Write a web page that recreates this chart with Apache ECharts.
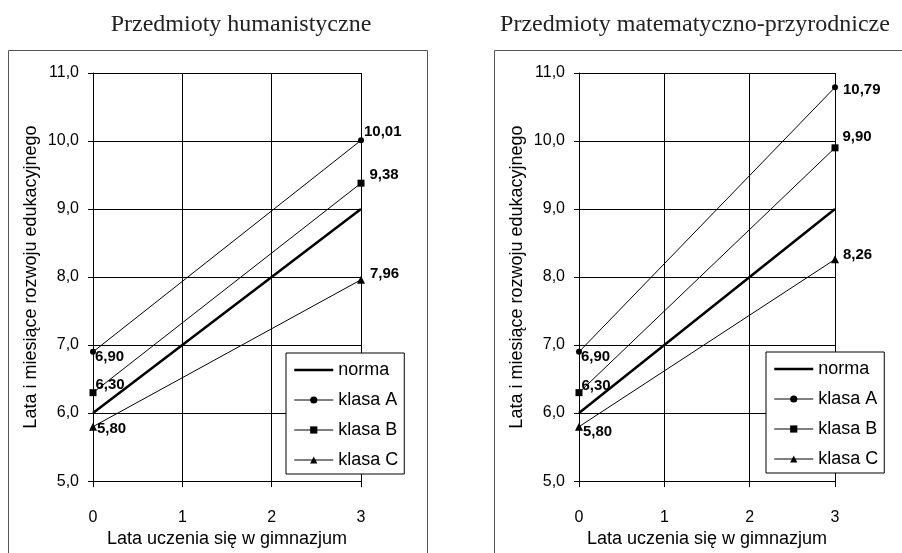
<!DOCTYPE html>
<html lang="pl">
<head>
  <meta charset="UTF-8">
  <title>Rozwój edukacyjny</title>
  <script src="https://cdn.jsdelivr.net/npm/echarts@6/dist/echarts.min.js"></script>
  <style>
    body { margin: 0; background: #fff; }
    #chart { width: 902px; height: 553px; }
  </style>
</head>
<body>
<div id="chart"></div>
<script>
  // dane
  const panelTitles = ['Przedmioty humanistyczne', 'Przedmioty matematyczno-przyrodnicze'];
  const seriesNames = ['norma', 'klasa A', 'klasa B', 'klasa C'];
  const classYears = [0, 3];
  const normaYears = [0, 1, 2, 3];
  const normaValues = [6, 7, 8, 9];
  const humA = [6.90, 10.01];
  const humB = [6.30, 9.38];
  const humC = [5.80, 7.96];
  const matA = [6.90, 10.79];
  const matB = [6.30, 9.90];
  const matC = [5.80, 8.26];

  // przesuniecia etykiet (tylko uklad)
  const labelShift = [
    [[-1, 5], [0, -8]],  [[-1, -8], [5, -8]],  [[0, 2], [5, -6]],
    [[-1, 5], [5, 3]],   [[-1, -7], [4, -11]], [[0, 5], [4, -5]]
  ];

  const FONT = 'Liberation Sans';
  const comma = (v, d) => v.toFixed(d).replace('.', ',');

  const chart = echarts.init(document.getElementById('chart'), null, { renderer: 'canvas' });

  const grids = [
    { left: 93, top: 73, width: 268, height: 414 },
    { left: 579, top: 73, width: 256, height: 414 }
  ];

  function axesFor(i) {
    const x = {
      type: 'value', gridIndex: i, min: 0, max: 3, interval: 1,
      name: 'Lata uczenia się w gimnazjum', nameLocation: 'middle', nameGap: 42,
      nameTextStyle: { fontFamily: FONT, fontSize: 18, color: '#000' },
      axisLine: { lineStyle: { color: '#000', width: 1 } },
      axisTick: { show: true, length: 6, lineStyle: { color: '#000' } },
      axisLabel: { margin: 28, fontFamily: FONT, fontSize: 16, color: '#000' },
      splitLine: { show: true, lineStyle: { color: '#000', width: 1 } }
    };
    const y = {
      type: 'value', gridIndex: i, min: 5, max: 11, interval: 1,
      name: 'Lata i miesiące rozwoju edukacyjnego', nameLocation: 'middle', nameGap: 53,
      nameTextStyle: { fontFamily: FONT, fontSize: 18, color: '#000' },
      axisLine: { show: true, lineStyle: { color: '#000', width: 1 } },
      axisTick: { show: true, length: 5, lineStyle: { color: '#000' } },
      axisLabel: { margin: 14, fontFamily: FONT, fontSize: 16, color: '#000',
        formatter: v => comma(v, 1) },
      splitLine: { show: true, lineStyle: { color: '#000', width: 1 } }
    };
    return [x, y];
  }

  const markers = { 'klasa A': ['circle', 6], 'klasa B': ['rect', 7], 'klasa C': ['triangle', 8] };

  function classSeries(name, values, panel, shifts) {
    return {
      name: name, type: 'line', xAxisIndex: panel, yAxisIndex: panel,
      symbol: markers[name][0], symbolSize: markers[name][1],
      lineStyle: { color: '#000', width: 1 },
      itemStyle: { color: '#000' },
      z: 3,
      data: values.map((v, k) => ({
        value: [classYears[k], v],
        label: {
          show: true, position: 'right', distance: 0, offset: shifts[k],
          fontFamily: FONT, fontSize: 15, fontWeight: 'bold', color: '#000',
          formatter: p => comma(p.value[1], 2)
        }
      }))
    };
  }

  function normaSeries(panel) {
    return {
      name: 'norma', type: 'line', xAxisIndex: panel, yAxisIndex: panel,
      symbol: 'none', z: 4,
      lineStyle: { color: '#000', width: 2.5 },
      itemStyle: { color: '#000' },
      data: normaYears.map((x, k) => [x, normaValues[k]])
    };
  }

  const panelData = [[humA, humB, humC], [matA, matB, matC]];
  const series = [];
  panelData.forEach((set, p) => {
    series.push(normaSeries(p));
    set.forEach((vals, k) => {
      series.push(classSeries(seriesNames[k + 1], vals, p, labelShift[p * 3 + k]));
    });
  });

  const xAxes = [], yAxes = [];
  [0, 1].forEach(i => { const a = axesFor(i); xAxes.push(a[0]); yAxes.push(a[1]); });

  function legendAt(left, top) {
    return {
      data: seriesNames.map(n => n === 'norma'
        ? { name: n, itemStyle: { opacity: 0 }, lineStyle: { width: 2.5 } }
        : { name: n, lineStyle: { width: 1 } }),
      orient: 'vertical', left: left, top: top,
      backgroundColor: '#fff', borderColor: '#000', borderWidth: 1,
      padding: [8, 6, 5, 7], itemGap: 12, itemWidth: 39, itemHeight: 9,
      selectedMode: false,
      textStyle: { fontFamily: FONT, fontSize: 18, color: '#000' },
      z: 10
    };
  }

  const option = {
    animation: false,
    backgroundColor: '#fff',
    title: [
      { text: panelTitles[0], left: 236, top: 8, textAlign: 'center',
        textStyle: { fontFamily: 'Liberation Serif', fontSize: 24, fontWeight: 'normal', color: '#222' } },
      { text: panelTitles[1], left: 690, top: 8, textAlign: 'center',
        textStyle: { fontFamily: 'Liberation Serif', fontSize: 24, fontWeight: 'normal', color: '#222' } }
    ],
    graphic: [
      { type: 'rect', shape: { x: 8.5, y: 50.5, width: 419, height: 520 }, silent: true, z: -10,
        style: { fill: 'none', stroke: '#555', lineWidth: 1 } },
      { type: 'rect', shape: { x: 494.5, y: 50.5, width: 430, height: 520 }, silent: true, z: -10,
        style: { fill: 'none', stroke: '#555', lineWidth: 1 } }
    ],
    legend: [legendAt(286, 353), legendAt(766, 352)],
    grid: grids,
    xAxis: xAxes,
    yAxis: yAxes,
    series: series
  };

  chart.setOption(option);
</script>
</body>
</html>
